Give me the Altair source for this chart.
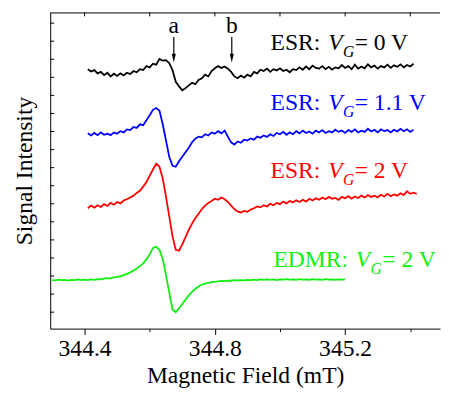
import altair as alt
import pandas as pd
import numpy as np

FONT = "Liberation Serif"

# ---- data ----
field_esr_0v = np.round(np.linspace(344.41, 345.41, 101), 3)
esr_0v = [
    13.45, 13.32, 13.40, 13.22, 13.30, 13.12, 13.25, 13.05, 13.20, 13.08,
    13.22, 13.10, 13.25, 13.18, 13.35, 13.28, 13.45, 13.40, 13.62, 13.55,
    13.75, 13.70, 14.02, 13.92, 13.95, 13.78, 13.40, 12.75, 12.50, 12.28,
    12.40, 12.55, 12.70, 12.62, 12.85, 12.95, 13.15, 13.05, 13.35, 13.50,
    13.62, 13.52, 13.60, 13.48, 13.30, 13.05, 12.95, 13.10, 12.98, 13.15,
    13.05, 13.30, 13.22, 13.42, 13.35, 13.48, 13.30, 13.45, 13.38, 13.50,
    13.35, 13.42, 13.28, 13.45, 13.40, 13.55, 13.42, 13.60, 13.45, 13.65,
    13.52, 13.48, 13.62, 13.45, 13.58, 13.42, 13.55, 13.50, 13.68, 13.52,
    13.62, 13.45, 13.70, 13.48, 13.60, 13.50, 13.72, 13.55, 13.65, 13.48,
    13.62, 13.55, 13.70, 13.52, 13.66, 13.58, 13.72, 13.55, 13.68, 13.60,
    13.75,
]

field_esr_11v = np.round(np.linspace(344.41, 345.41, 101), 3)
esr_11v = [
    9.90, 9.78, 9.92, 9.80, 9.95, 9.82, 9.88, 9.80, 9.95, 9.88,
    10.02, 9.95, 10.12, 10.08, 10.25, 10.20, 10.40, 10.35, 10.62, 10.90,
    11.20, 11.30, 11.15, 10.40, 9.50, 8.60, 8.10, 8.05, 8.35, 8.60,
    8.85, 9.10, 9.40, 9.60, 9.72, 9.68, 9.85, 9.78, 9.95, 9.88,
    10.02, 9.90, 10.05, 9.72, 9.40, 9.28, 9.45, 9.38, 9.55, 9.50,
    9.62, 9.55, 9.72, 9.65, 9.78, 9.70, 9.85, 9.75, 9.92, 9.85,
    9.98, 9.82, 9.95, 9.85, 10.02, 9.90, 10.05, 9.92, 10.00, 9.88,
    10.05, 9.95, 10.08, 9.92, 10.02, 9.95, 10.10, 9.98, 10.05, 9.92,
    10.08, 9.98, 10.12, 9.95, 10.05, 9.98, 10.15, 10.00, 10.10, 9.95,
    10.12, 10.02, 10.08, 9.95, 10.10, 10.00, 10.15, 10.02, 10.12, 9.98,
    10.10,
]

field_esr_2v = np.round(np.linspace(344.41, 345.42, 102), 3)
esr_2v = [
    5.75, 5.90, 5.78, 5.92, 5.82, 5.98, 5.88, 6.05, 5.95, 6.10,
    6.02, 6.18, 6.25, 6.35, 6.45, 6.60, 6.72, 6.95, 7.20, 7.55,
    7.90, 8.22, 8.05, 7.40, 6.40, 5.30, 4.20, 3.45, 3.40, 3.75,
    4.15, 4.55, 4.90, 5.20, 5.45, 5.70, 5.90, 6.05, 6.15, 6.28,
    6.22, 6.35, 6.25, 6.10, 5.90, 5.70, 5.58, 5.52, 5.60, 5.55,
    5.68, 5.75, 5.85, 5.80, 5.92, 5.85, 6.00, 5.92, 6.05, 5.98,
    6.12, 6.02, 6.15, 6.08, 6.20, 6.10, 6.22, 6.12, 6.28, 6.18,
    6.30, 6.22, 6.35, 6.25, 6.38, 6.28, 6.32, 6.22, 6.38, 6.30,
    6.42, 6.28, 6.40, 6.32, 6.45, 6.35, 6.48, 6.38, 6.45, 6.36,
    6.50, 6.40, 6.55, 6.42, 6.52, 6.45, 6.58, 6.48, 6.70, 6.55,
    6.62, 6.55,
]

field_edmr_2v = np.round(np.linspace(344.30, 345.20, 91), 3)
edmr_2v = [
    1.78, 1.76, 1.80, 1.77, 1.79, 1.75, 1.79, 1.78, 1.81, 1.77,
    1.80, 1.78, 1.82, 1.79, 1.83, 1.82, 1.86, 1.88, 1.87, 1.92,
    1.95, 1.98, 2.05, 2.12, 2.20, 2.30, 2.42, 2.55, 2.70, 2.92,
    3.20, 3.55, 3.62, 3.45, 2.95, 2.05, 1.10, 0.15, 0.00, 0.22,
    0.45, 0.70, 0.93, 1.12, 1.30, 1.42, 1.52, 1.58, 1.62, 1.66,
    1.68, 1.70, 1.73, 1.72, 1.75, 1.74, 1.77, 1.76, 1.78, 1.76,
    1.79, 1.77, 1.80, 1.78, 1.81, 1.79, 1.82, 1.79, 1.81, 1.78,
    1.82, 1.80, 1.83, 1.80, 1.82, 1.79, 1.83, 1.80, 1.82, 1.79,
    1.83, 1.80, 1.82, 1.79, 1.83, 1.80, 1.82, 1.79, 1.82, 1.80,
    1.81,
]

series_names = ["ESR 0 V", "ESR 1.1 V", "ESR 2 V", "EDMR 2 V"]
series_colors = ["#000000", "#0000ff", "#ff0000", "#11ee11"]

label_prefix = ["ESR:", "ESR:", "ESR:", "EDMR:"]
label_suffix = ["= 0 V", "= 1.1 V", "= 2 V", "= 2 V"]
label_field = [345.148, 345.148, 345.148, 345.233]
label_signal = [14.53, 11.21, 7.40, 2.51]

arrow_labels = ["a", "b"]
arrow_field = [344.674, 344.852]
arrow_text_y = [15.45, 15.45]
arrow_top_y = [15.23, 15.23]
arrow_head_y = [14.06, 14.06]

x_domain = [344.2945, 345.4914]
y_domain = [-0.91, 16.59]
x_ticks = [344.4, 344.6, 344.8, 345.0, 345.2, 345.4]
y_ticks = list(range(17))

X_TITLE = "Magnetic Field (mT)"
Y_TITLE = "Signal Intensity"

# ---- tables ----
frames = []
for name, xs, ys in zip(series_names,
                        [field_esr_0v, field_esr_11v, field_esr_2v, field_edmr_2v],
                        [esr_0v, esr_11v, esr_2v, edmr_2v]):
    frames.append(pd.DataFrame({"field": xs, "signal": ys, "series": name}))
traces = pd.concat(frames, ignore_index=True)

labels = pd.DataFrame({"field": label_field, "signal": label_signal,
                       "prefix": label_prefix, "suffix": label_suffix,
                       "series": series_names})
arrows = pd.DataFrame({"field": arrow_field, "label": arrow_labels,
                       "yt": arrow_text_y, "ytop": arrow_top_y, "yhead": arrow_head_y})

xscale = alt.Scale(domain=x_domain, nice=False, zero=False)
yscale = alt.Scale(domain=y_domain, nice=False, zero=False)
cscale = alt.Scale(domain=series_names, range=series_colors)


def X(f):
    return alt.X(f, scale=xscale, title=X_TITLE)


def Y(f):
    return alt.Y(f, scale=yscale, title=Y_TITLE)


lines = alt.Chart(traces).mark_line(strokeWidth=1.8).encode(
    x=alt.X("field:Q", scale=xscale, title=X_TITLE,
            axis=alt.Axis(values=x_ticks, grid=False,
                          labelExpr="round(datum.value*10) % 4 == 0 ? format(datum.value, '.1f') : ''",
                          tickSize={"condition": {"test": "round(datum.value*10) % 4 == 0", "value": 6}, "value": 3},
                          labelPadding=2, titlePadding=4, labelFlush=False)),
    y=alt.Y("signal:Q", scale=yscale, title=Y_TITLE,
            axis=alt.Axis(ticks=False, labels=False, grid=False, titlePadding=14)),
    color=alt.Color("series:N", scale=cscale, legend=None),
)

# top frame line and its inward ticks
frame_top = alt.Chart(pd.DataFrame({"x0": [x_domain[0]], "x1": [x_domain[1]]})).mark_rule(
    color="black", strokeWidth=1).encode(
    x=X("x0:Q"), x2="x1:Q", y=alt.value(0.5),
)
top_ticks = alt.Chart(pd.DataFrame({"t": x_ticks})).mark_rule(color="black", strokeWidth=1).encode(
    x=X("t:Q"), y=alt.value(0), y2=alt.value(4),
)
# inward ticks on the left axis
y_tick_marks = alt.Chart(pd.DataFrame({"v": y_ticks})).mark_rule(color="black", strokeWidth=1).encode(
    y=Y("v:Q"), x=alt.value(0), x2=alt.value(4),
)

shafts = alt.Chart(arrows).mark_rule(color="black", strokeWidth=1.2).encode(
    x=X("field:Q"), y=Y("ytop:Q"), y2="yhead:Q",
)
heads = alt.Chart(arrows).mark_point(shape="M -0.45 -1 L 0.45 -1 L 0 1 Z", size=81,
                                     filled=True, color="black", opacity=1, strokeWidth=0).encode(
    x=X("field:Q"), y=Y("yhead:Q"),
)
letters = alt.Chart(arrows).mark_text(font=FONT, fontSize=24, baseline="alphabetic",
                                      align="center", color="black").encode(
    x=X("field:Q"), y=Y("yt:Q"), text="label:N",
)


def piece(chart_mark, text_field):
    return chart_mark.encode(
        x=X("field:Q"), y=Y("signal:Q"), text=text_field,
        color=alt.Color("series:N", scale=cscale, legend=None),
    )


base_lab = alt.Chart(labels).transform_calculate(v="'V'", g="'G'")
pre = piece(base_lab.mark_text(font=FONT, baseline="alphabetic", fontSize=24, align="right", dx=-8), "prefix:N")
vee = piece(base_lab.mark_text(font=FONT, baseline="alphabetic", fontSize=24, fontStyle="italic", align="left"), "v:N")
gee = piece(base_lab.mark_text(font=FONT, baseline="alphabetic", fontSize=16, fontStyle="italic",
                               align="left", dx=15, dy=7), "g:N")
suf = piece(base_lab.mark_text(font=FONT, baseline="alphabetic", fontSize=24, align="left", dx=27), "suffix:N")

chart = alt.layer(lines, frame_top, top_ticks, y_tick_marks, shafts, heads, letters,
                  pre, vee, gee, suf).properties(
    width=397, height=322,
    padding={"left": 5, "top": 0, "right": 0, "bottom": 0},
).configure_view(stroke=None).configure_axis(
    domainColor="black", domainWidth=1, tickColor="black", tickWidth=1,
    labelFont=FONT, labelFontSize=24, labelColor="black",
    titleFont=FONT, titleFontSize=24, titleFontWeight="normal", titleColor="black",
)

chart.save("out.html", embed_options={"renderer": "svg", "actions": False})
